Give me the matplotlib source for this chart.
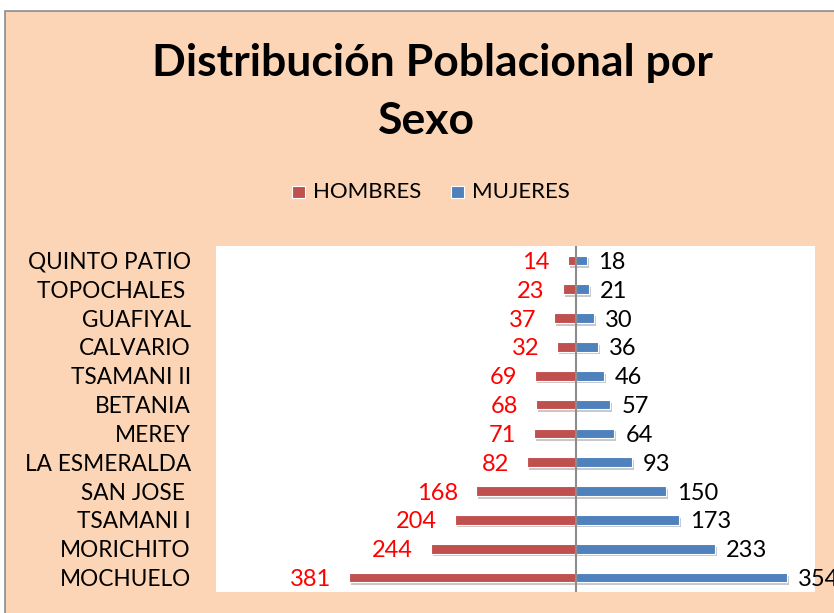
import matplotlib
matplotlib.use("Agg")
import matplotlib.pyplot as plt
import matplotlib.patheffects as pe
from matplotlib.patches import Rectangle
import numpy as np

plt.rcParams['font.family'] = ['Lato', 'DejaVu Sans']

# Datos (de abajo hacia arriba)
veredas = ['MOCHUELO', 'MORICHITO', 'TSAMANI I', 'SAN JOSE ', 'LA ESMERALDA',
           'MEREY', 'BETANIA', 'TSAMANI II', 'CALVARIO', 'GUAFIYAL',
           'TOPOCHALES ', 'QUINTO PATIO']
hombres = [381, 244, 204, 168, 82, 71, 68, 69, 32, 37, 23, 14]
mujeres = [354, 233, 173, 150, 93, 64, 57, 46, 36, 30, 21, 18]

fondo = '#FBD5B5'
rojo = '#C0504D'
azul = '#4F81BD'

fig = plt.figure(figsize=(8.34, 6.13), dpi=100)
fig.patch.set_facecolor('white')

# marco del grafico
W, H = 834, 613
marco = Rectangle((5 / W, -0.1), 1.2, 1 - 11 / H + 0.1, transform=fig.transFigure,
                  facecolor=fondo, edgecolor='#8C8C8C', linewidth=1.2, zorder=-10)
fig.add_artist(marco)

ax = fig.add_axes([216 / W, 1 - 592 / H, (815 - 216) / W, (592 - 246) / H])
ax.set_facecolor('white')
ax.set_zorder(1)

y = np.arange(len(veredas))
sombra = [pe.SimplePatchShadow(offset=(1.5, -2), alpha=0.25), pe.Normal()]
bh = ax.barh(y, [-v for v in hombres], height=0.33, color=rojo,
             edgecolor='white', linewidth=0.8, zorder=2)
bm = ax.barh(y, mujeres, height=0.33, color=azul,
             edgecolor='white', linewidth=0.8, zorder=2)
for b in list(bh) + list(bm):
    b.set_path_effects(sombra)

ax.axvline(0, color='#8C8C8C', linewidth=1.5, zorder=3)

for yi, v in zip(y, hombres):
    ax.annotate(str(v), (-v, yi), xytext=(-13, 0), textcoords='offset points',
                ha='right', va='center_baseline', color='red', fontsize=17)
for yi, v in zip(y, mujeres):
    ax.annotate(str(v), (v, yi), xytext=(8, 0), textcoords='offset points',
                ha='left', va='center_baseline', color='black', fontsize=17,
                annotation_clip=False)

ax.set_xlim(-605, 401)
ax.set_ylim(-0.5, len(veredas) - 0.5)
ax.set_yticks(y)
ax.set_yticklabels(veredas, fontsize=16.3, va='center_baseline')
ax.tick_params(axis='y', length=0, pad=18)
ax.set_xticks([])
for s in ax.spines.values():
    s.set_visible(False)

fig.text(432 / W, 1 - 63 / H, 'Distribución Poblacional por', ha='center',
         va='center', fontsize=32, fontweight='bold')
fig.text(426 / W, 1 - 121 / H, 'Sexo', ha='center', va='center',
         fontsize=32, fontweight='bold')

# leyenda
fig.add_artist(Rectangle((292 / W, 1 - 198 / H), 13 / W, 12 / H,
                         transform=fig.transFigure, facecolor=rojo,
                         edgecolor='white', linewidth=0.8))
fig.text(313 / W, 1 - 192 / H, 'HOMBRES', ha='left', va='center', fontsize=16)
fig.add_artist(Rectangle((451 / W, 1 - 198 / H), 13 / W, 12 / H,
                         transform=fig.transFigure, facecolor=azul,
                         edgecolor='white', linewidth=0.8))
fig.text(472 / W, 1 - 192 / H, 'MUJERES', ha='left', va='center', fontsize=16)

fig.savefig('out.png', dpi=100, facecolor=fig.get_facecolor())
